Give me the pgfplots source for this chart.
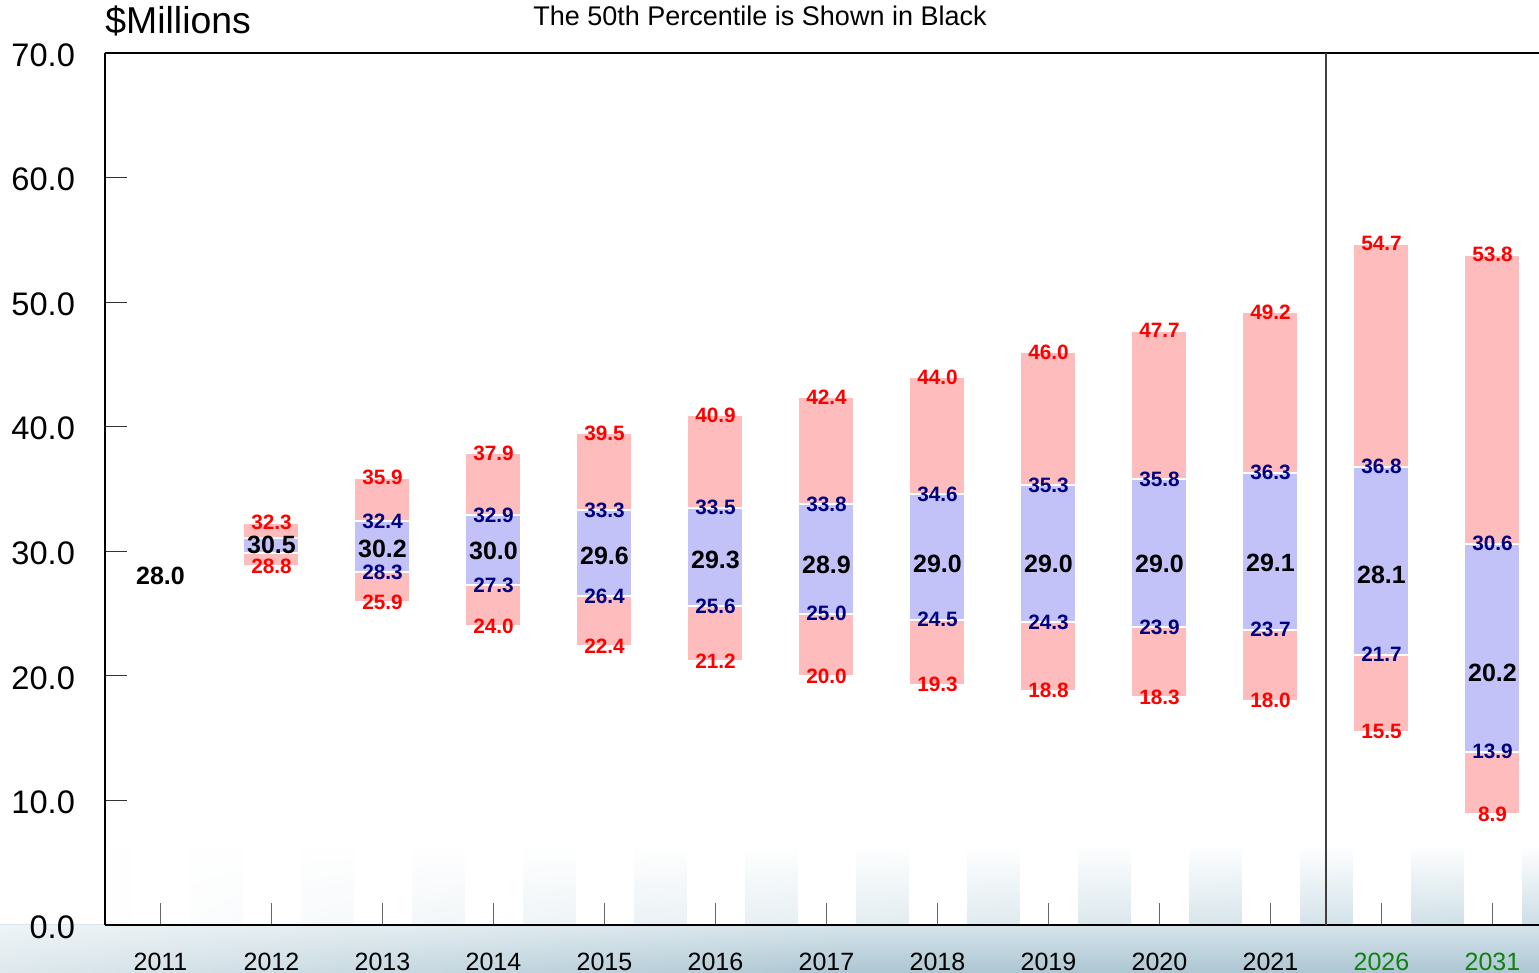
\documentclass[border=0pt]{standalone}
\usepackage{fontspec}
\setmainfont{Liberation Sans}
\usepackage{pgfplots}
\usepackage{pgfplotstable}
\pgfplotsset{compat=1.18}
\usetikzlibrary{fadings}
\definecolor{redfill}{RGB}{255,188,188}
\definecolor{bluefill}{RGB}{194,194,248}
\definecolor{navy}{RGB}{0,0,128}
\definecolor{tgreen}{RGB}{16,128,16}
\definecolor{bgtop}{RGB}{214,228,235}
\definecolor{bgbot}{RGB}{172,198,210}
\definecolor{bandbot}{RGB}{204,222,230}
\tikzfading[name=fadeR, left color=transparent!0, right color=transparent!100]

\pgfplotstableread{
idx p10 p25 p50 p75 p90
1 28.8 29.9 30.5 31.1 32.3
2 25.9 28.3 30.2 32.4 35.9
3 24.0 27.3 30.0 32.9 37.9
4 22.4 26.4 29.6 33.3 39.5
5 21.2 25.6 29.3 33.5 40.9
6 20.0 25.0 28.9 33.8 42.4
7 19.3 24.5 29.0 34.6 44.0
8 18.8 24.3 29.0 35.3 46.0
9 18.3 23.9 29.0 35.8 47.7
10 18.0 23.7 29.1 36.3 49.2
11 15.5 21.7 28.1 36.8 54.7
12 8.9 13.9 20.2 30.6 53.8
}\bars

\begin{document}
\begin{tikzpicture}
\useasboundingbox (-52.5pt,-24pt) rectangle (717pt,462.5pt);
% backgrounds
\shade[top color=bgtop, bottom color=bgbot] (-52.5pt,-24pt) rectangle (717.5pt,0pt);
\fill[white, path fading=fadeR, opacity=0.6] (-52.5pt,-24pt) rectangle (380pt,0pt);
\shade[top color=white, bottom color=bandbot] (0pt,0pt) rectangle (717.5pt,40pt);
\fill[white, path fading=fadeR] (0pt,0pt) rectangle (717.5pt,40pt);
\foreach \i in {0,...,12} {
  \fill[white] ({(\i+0.5)*55.5pt-14.5pt},0pt) rectangle ++(29pt,40.5pt);
}

\begin{axis}[
  at={(0pt,0pt)}, anchor=south west, scale only axis,
  width=717.5pt, height=436pt,
  xmin=-0.5, xmax=12.428, ymin=0, ymax=70,
  axis x line*=bottom, axis y line*=left,
  axis line style={black, line width=0.6pt, -},
  ybar stacked, bar width=28pt,
  xtick={0,...,12},
  xticklabels={2011,2012,2013,2014,2015,2016,2017,2018,2019,2020,2021,\textcolor{tgreen}{2026},\textcolor{tgreen}{2031}},
  ytick={0,10,...,70},
  tick align=inside, major tick length=11pt,
  xtick style={draw=black!60, line width=0.6pt},
  ytick style={draw=black!80, line width=0.6pt},
  y tick label style={font=\fontsize{16.3}{19}\selectfont, xshift=-11.5pt, yshift=-1pt,
    /pgf/number format/.cd, fixed, fixed zerofill, precision=1, assume math mode=true, /tikz/.cd},
  x tick label style={font=\fontsize{12.5}{14}\selectfont, yshift=-10.5pt},
  clip=false,
]
\addplot[draw=none, fill=none] table[x=idx, y=p10] {\bars};
\addplot[fill=redfill, draw=white, line width=1pt] table[x=idx, y expr=\thisrow{p25}-\thisrow{p10}] {\bars};
\addplot[fill=bluefill, draw=white, line width=1pt] table[x=idx, y expr=\thisrow{p75}-\thisrow{p25}] {\bars};
\addplot[fill=redfill, draw=white, line width=1pt] table[x=idx, y expr=\thisrow{p90}-\thisrow{p75}] {\bars};
\draw[black!75, line width=0.6pt] (axis cs:10.5,0) -- (axis cs:10.5,70);
\draw[black, line width=0.6pt] (axis cs:-0.5,70) -- (axis cs:12.428,70);
\end{axis}

\begin{axis}[
  at={(0pt,0pt)}, anchor=south west, scale only axis,
  width=717.5pt, height=436pt,
  xmin=-0.5, xmax=12.428, ymin=0, ymax=70,
  hide axis, clip=false,
  nodes near coords, point meta=explicit symbolic, nodes near coords align=center,
]
\addplot[draw=none, mark=none, nodes near coords style={font=\fontsize{10.4}{12}\bfseries\selectfont, inner sep=0pt, text=red}]
  table[x=idx, y=p90, meta=p90] {\bars};
\addplot[draw=none, mark=none, nodes near coords style={font=\fontsize{10.4}{12}\bfseries\selectfont, inner sep=0pt, text=red}]
  table[x=idx, y=p10, meta=p10] {\bars};
\addplot[draw=none, mark=none, skip coords between index={0}{1}, nodes near coords style={font=\fontsize{10.4}{12}\bfseries\selectfont, inner sep=0pt, text=navy}]
  table[x=idx, y=p75, meta=p75] {\bars};
\addplot[draw=none, mark=none, skip coords between index={0}{1}, nodes near coords style={font=\fontsize{10.4}{12}\bfseries\selectfont, inner sep=0pt, text=navy}]
  table[x=idx, y=p25, meta=p25] {\bars};
\addplot[draw=none, mark=none, nodes near coords style={font=\fontsize{12.5}{14}\bfseries\selectfont, inner sep=0pt, text=black}]
  table[x=idx, y=p50, meta=p50] {\bars};
\addplot[draw=none, mark=none, nodes near coords style={font=\fontsize{12.5}{14}\bfseries\selectfont, inner sep=0pt, text=black}]
  coordinates {(0,28.0) [28.0]};
\end{axis}

\node[anchor=base west, inner sep=0pt, font=\fontsize{18.7}{20}\selectfont] at (0pt,445.5pt) {\$Millions};
\node[anchor=base, inner sep=0pt, font=\fontsize{13.5}{15}\selectfont] at (327.5pt,449.5pt) {The 50th Percentile is Shown in Black};
\end{tikzpicture}
\end{document}
